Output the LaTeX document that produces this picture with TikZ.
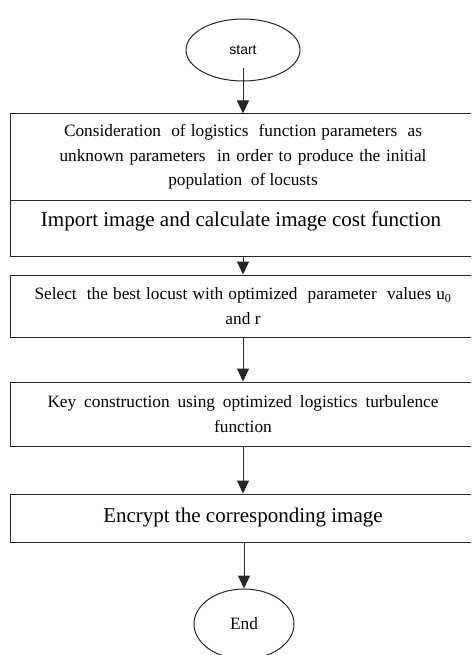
\documentclass[tikz,border=0pt]{standalone}
\usepackage{fontspec}
\setmainfont{Liberation Serif}
\newfontfamily\startfont{Liberation Sans}
\usetikzlibrary{arrows.meta,shapes.geometric}
\begin{document}
\begin{tikzpicture}[x=1pt,y=-1pt,
  stepbox/.style={draw=black!85, line width=1pt, minimum width=466pt, inner sep=0pt, align=center, font=\fontsize{17.3}{24.5}\selectfont},
  bigtext/.style={inner sep=0pt, font=\fontsize{21}{21}\selectfont},
  term/.style={draw=black!85, line width=1pt, ellipse, inner sep=0pt},
  flow/.style={draw=black!85, line width=1pt, -{Triangle[width=12pt,length=13pt]}},
]
\useasboundingbox (0,0) rectangle (471,655);
\clip (0,0) rectangle (471,655);

\node[term, minimum width=114pt, minimum height=62pt, font=\startfont\fontsize{14}{14}\selectfont] (start) at (243,50) {start};

\node[stepbox, minimum height=86pt] (b1) at (243,157)
  {\makebox[358pt][s]{Consideration\ \ of logistics\ \ function parameters\ \ as}\\
   \makebox[367pt][s]{unknown parameters\ \ in order to produce the initial}\\
   population\ \ of locusts};

\node[stepbox, minimum height=56pt] (b2) at (243,228) {};
\node[bigtext] (t2) at (241,221) {Import image and calculate image cost function};

\node[stepbox, minimum height=62pt] (b3) at (243,306)
  {\makebox[417pt][s]{Select\ \ the best locust with optimized\ \ parameter\ \ values u\textsubscript{0}}\\
   and r};

\node[stepbox, minimum height=64pt] (b4) at (243,414)
  {\makebox[391pt][s]{Key construction using optimized logistics turbulence}\\
   function};

\node[stepbox, minimum height=48pt] (b5) at (243,518) {};
\node[bigtext] (t5) at (243,517) {Encrypt the corresponding image};

\node[term, minimum width=100pt, minimum height=70pt, font=\fontsize{17.3}{17.3}\selectfont] (end) at (244,624) {End};

\draw[flow] ([yshift=13pt]start.south) -- (start.south |- b1.north);
\draw[flow] (b2.south) -- (b3.north);
\draw[flow] (b3.south) -- (b4.north);
\draw[flow] (b4.south) -- (b5.north);
\draw[flow] (b5.south -| end.north) -- (end.north);
\end{tikzpicture}
\end{document}
